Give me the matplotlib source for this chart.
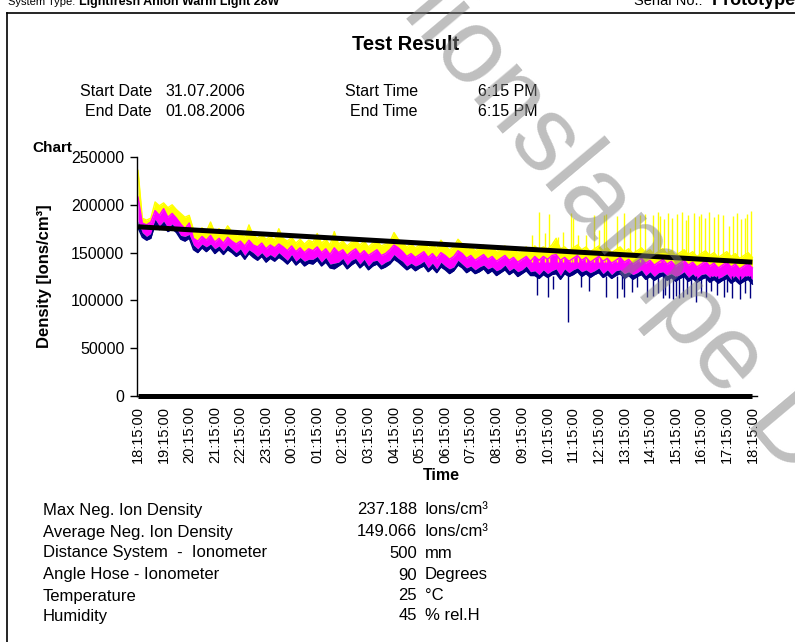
import matplotlib
matplotlib.use('Agg')
import matplotlib.pyplot as plt
from matplotlib.lines import Line2D
import numpy as np

plt.rcParams['font.family'] = ['Liberation Sans', 'DejaVu Sans']

# ---------------- data (1000 ions/cm3, envelope of each trace per 10-minute slot) ----------------
yellow_hi_k = [236, 186, 184, 186, 203, 199, 202, 197, 200, 195,
               191, 187, 189, 174, 171, 176, 172, 182, 171, 175,
               170, 178, 172, 168, 170, 166, 179, 168, 165, 169,
               164, 167, 163, 175, 165, 162, 166, 160, 164, 159,
               163, 161, 170, 160, 164, 158, 172, 159, 162, 157,
               161, 163, 158, 162, 156, 160, 162, 157, 159, 161,
               171, 164, 160, 156, 159, 155, 158, 161, 155, 159,
               154, 163, 157, 153, 156, 164, 159, 154, 157, 152,
               155, 158, 153, 156, 151, 154, 157, 152, 155, 150,
               153, 156, 151, 157, 153, 156, 154, 158, 165, 154,
               156, 152, 155, 158, 153, 156, 151, 154, 157, 152,
               155, 150, 153, 156, 151, 154, 149, 152, 155, 150,
               153, 148, 151, 154, 149, 152, 147, 150, 153, 148,
               151, 146, 149, 152, 147, 150, 145, 148, 151, 146,
               149, 144, 147, 150, 145]
magenta_hi_k = [208, 181, 179, 182, 194, 189, 196, 187, 191, 186,
                180, 175, 181, 165, 162, 167, 163, 168, 161, 165,
                160, 166, 162, 159, 162, 157, 163, 158, 156, 160,
                154, 158, 155, 159, 156, 152, 157, 151, 155, 150,
                154, 152, 156, 150, 154, 148, 155, 150, 153, 147,
                151, 154, 148, 152, 147, 150, 153, 147, 149, 153,
                158, 155, 151, 146, 149, 145, 148, 151, 145, 149,
                144, 150, 147, 143, 146, 152, 149, 144, 147, 142,
                145, 148, 143, 146, 141, 144, 147, 142, 145, 140,
                143, 146, 141, 146, 142, 146, 143, 147, 148, 142,
                145, 141, 144, 147, 142, 145, 140, 143, 146, 141,
                144, 139, 142, 145, 140, 143, 138, 141, 144, 139,
                142, 137, 140, 143, 138, 141, 136, 139, 142, 137,
                140, 135, 138, 141, 136, 139, 134, 137, 140, 135,
                138, 133, 136, 139, 134]
navy_hi_k = [183, 171, 167, 170, 185, 178, 183, 176, 180, 175,
             168, 167, 169, 158, 154, 159, 156, 159, 154, 157,
             152, 158, 154, 150, 154, 147, 153, 150, 146, 150,
             145, 148, 145, 150, 146, 142, 148, 141, 145, 141,
             143, 143, 146, 140, 145, 138, 139, 140, 144, 137,
             142, 144, 138, 143, 136, 141, 142, 137, 140, 142,
             148, 144, 141, 136, 139, 136, 138, 141, 134, 139,
             133, 140, 136, 133, 135, 142, 138, 134, 136, 132,
             135, 137, 133, 135, 131, 133, 137, 131, 134, 130,
             132, 136, 130, 131, 127, 132, 128, 131, 133, 126,
             133, 129, 132, 134, 130, 132, 129, 131, 134, 128,
             132, 127, 131, 132, 128, 130, 127, 129, 132, 126,
             130, 125, 129, 130, 126, 128, 125, 127, 130, 124,
             128, 123, 127, 128, 124, 126, 123, 125, 128, 122,
             126, 121, 125, 126, 122]
navy_lo_k = [176, 166, 163, 165, 180, 174, 178, 172, 175, 171,
             164, 162, 165, 153, 150, 155, 151, 155, 149, 153,
             148, 153, 150, 146, 149, 143, 149, 145, 142, 146,
             140, 144, 141, 145, 142, 138, 143, 137, 141, 136,
             139, 138, 142, 136, 140, 134, 133, 136, 139, 133,
             137, 140, 134, 138, 132, 136, 138, 133, 135, 138,
             143, 140, 136, 132, 135, 131, 134, 136, 130, 134,
             129, 135, 132, 128, 131, 137, 134, 129, 132, 128,
             130, 133, 128, 131, 126, 129, 132, 127, 130, 125,
             128, 131, 126, 126, 123, 127, 124, 127, 128, 122,
             128, 125, 127, 130, 125, 128, 124, 127, 129, 124,
             127, 123, 126, 128, 123, 126, 122, 125, 127, 122,
             125, 121, 124, 126, 121, 124, 120, 123, 125, 120,
             123, 119, 122, 124, 119, 122, 118, 121, 123, 118,
             121, 117, 120, 122, 117]

# short yellow spikes (hours after start, peak in 1000)
spike_hours = [15.4, 15.65, 15.9, 16.05, 16.4, 16.6, 16.9, 17.0, 17.2, 17.5,
               17.8, 18.0, 18.2, 18.3, 18.7, 19.0, 19.2, 19.4, 19.6, 19.8,
               20.1, 20.3, 20.4, 20.55, 20.7, 20.85, 21.05, 21.25, 21.4, 21.5,
               21.7, 21.9, 22.0, 22.15, 22.3, 22.5, 22.65, 22.85, 23.1, 23.25,
               23.4, 23.55, 23.7, 23.8, 23.95]
spike_peak_k = [168, 192, 170, 190, 166, 172, 191, 186, 168, 168,
                189, 174, 189, 190, 188, 191, 176, 187, 189, 190,
                189, 192, 188, 185, 191, 186, 190, 192, 184, 189,
                191, 188, 190, 186, 192, 187, 190, 189, 178, 188,
                191, 185, 186, 190, 193]
# short navy drops (hours after start, minimum in 1000)
dip_hours = [15.6, 16.0, 16.2, 16.8, 17.3, 17.6, 18.3, 18.7, 18.9, 19.0,
             19.3, 19.5, 19.9, 20.1, 20.3, 20.5, 20.6, 20.75, 20.9, 21.0,
             21.15, 21.3, 21.45, 21.6, 21.8, 22.0, 22.2, 22.4, 22.6, 22.9,
             23.0, 23.2, 23.5, 23.7, 23.9]
dip_low_k = [106, 104, 112, 77, 114, 110, 104, 103, 112, 104,
             109, 114, 104, 105, 108, 102, 106, 103, 101, 105,
             102, 104, 107, 104, 98, 108, 104, 110, 106, 104,
             109, 103, 101, 108, 102]

trend_hours = [0, 24]
trend_values = [177000, 140000]
zero_values = [0, 0]

tick_labels = ["18:15:00", "19:15:00", "20:15:00", "21:15:00", "22:15:00", "23:15:00",
               "00:15:00", "01:15:00", "02:15:00", "03:15:00", "04:15:00", "05:15:00",
               "06:15:00", "07:15:00", "08:15:00", "09:15:00", "10:15:00", "11:15:00",
               "12:15:00", "13:15:00", "14:15:00", "15:15:00", "16:15:00", "17:15:00",
               "18:15:00"]
y_ticks = [0, 50000, 100000, 150000, 200000, 250000]

stat_names = ["Max Neg. Ion Density", "Average Neg. Ion Density",
              "Distance System  -  Ionometer", "Angle Hose - Ionometer",
              "Temperature", "Humidity"]
stat_values = ["237.188", "149.066", "500", "90", "25", "45"]
stat_units = ["Ions/cm\u00b3", "Ions/cm\u00b3", "mm", "Degrees", "\u00b0C", "% rel.H"]

# ---------------- figure ----------------
W, H = 795, 642
fig = plt.figure(figsize=(W / 100, H / 100), dpi=100)
fig.patch.set_facecolor('white')


def fx(x):
    return x / W


def fy(y):
    return 1 - y / H


ax = fig.add_axes([fx(137), fy(396), 620 / W, 239 / H])

t = np.arange(len(yellow_hi_k)) / 6.0
k = 1000
yh = np.array(yellow_hi_k) * k
mh = np.array(magenta_hi_k) * k
nh = np.array(navy_hi_k) * k
nl = np.array(navy_lo_k) * k

ax.fill_between(t, mh, yh, color='#FFFF00', lw=0)
ax.plot(t, yh, color='#FFFF00', lw=1.0)
ax.vlines(spike_hours, 140000, np.array(spike_peak_k) * k, color='#FFFF00', lw=1.0)
ax.fill_between(t, nh, mh, color='#FF00FF', lw=0)
ax.plot(t, mh, color='#FF00FF', lw=1.0)
ax.fill_between(t, nl, nh, color='#000080', lw=0)
ax.plot(t, nl, color='#000080', lw=1.0)
ax.vlines(dip_hours, np.array(dip_low_k) * k, 126000, color='#000080', lw=1.0)
ax.plot(trend_hours, trend_values, color='black', lw=3.6, solid_capstyle='butt')
ax.plot(trend_hours, zero_values, color='black', lw=3.6, solid_capstyle='butt', clip_on=False)

ax.set_xlim(-0.04, 24.18)
ax.set_ylim(0, 250000)
ax.set_yticks(y_ticks)
ax.set_yticklabels([str(v) for v in y_ticks], fontsize=11.5)
ax.set_xticks(range(len(tick_labels)))
ax.set_xticklabels(tick_labels, rotation=90, fontsize=10.5)
ax.tick_params(axis='x', length=0, pad=7)
ax.tick_params(axis='y', length=5, width=1, pad=4)
for s in ['top', 'right']:
    ax.spines[s].set_visible(False)
ax.spines['left'].set_linewidth(1)
ax.spines['bottom'].set_linewidth(1)
ax.set_facecolor('white')

# axis titles
fig.text(fx(45), fy(276), "Density [Ions/cm\u00b3]", rotation=90, ha='center', va='center',
         fontsize=12, fontweight='bold')
fig.text(fx(441), fy(475), "Time", ha='center', va='center', fontsize=11.5, fontweight='bold')
fig.text(fx(32), fy(152), "Chart", ha='left', va='baseline', fontsize=11, fontweight='bold')

# header
fs_h = 11.5
fig.text(fx(406), fy(45), "Test Result", ha='center', va='center', fontsize=14.5, fontweight='bold')
fig.text(fx(152), fy(91), "Start Date", ha='right', va='center', fontsize=fs_h)
fig.text(fx(152), fy(112), "End Date", ha='right', va='center', fontsize=fs_h)
fig.text(fx(165), fy(91), "31.07.2006", ha='left', va='center', fontsize=fs_h)
fig.text(fx(165), fy(112), "01.08.2006", ha='left', va='center', fontsize=fs_h)
fig.text(fx(418), fy(91), "Start Time", ha='right', va='center', fontsize=fs_h)
fig.text(fx(418), fy(112), "End Time", ha='right', va='center', fontsize=fs_h)
fig.text(fx(478), fy(91), "6:15 PM", ha='left', va='center', fontsize=fs_h)
fig.text(fx(478), fy(112), "6:15 PM", ha='left', va='center', fontsize=fs_h)

# cut-off top line
fig.text(fx(75), fy(5), "System Type:", ha='right', va='baseline', fontsize=8)
fig.text(fx(79), fy(5), "Lightfresh Anion Warm Light 28W", ha='left', va='baseline',
         fontsize=9, fontweight='bold')
fig.text(fx(703), fy(5), "Serial No.:", ha='right', va='baseline', fontsize=10.5)
fig.text(fx(712), fy(5), "Prototype", ha='left', va='baseline', fontsize=13, fontweight='bold')

# statistics
fs_s = 12
row_y = [510, 532, 553, 575, 596, 616]
for name, val, unit, yy in zip(stat_names, stat_values, stat_units, row_y):
    fig.text(fx(43), fy(yy), name, ha='left', va='center', fontsize=fs_s)
    fig.text(fx(417), fy(yy), val, ha='right', va='center', fontsize=fs_s)
    fig.text(fx(425), fy(yy), unit, ha='left', va='center', fontsize=fs_s)

# frame
fig.add_artist(Line2D([fx(7), fx(7)], [fy(13), fy(642)], color='black', lw=1.2))
fig.add_artist(Line2D([fx(7), fx(795)], [fy(13), fy(13)], color='black', lw=1.2))

# diagonal watermark
fig.text(fx(333), fy(-68), "Anionslampe Demo", rotation=-50, rotation_mode='anchor',
         ha='left', va='baseline', fontsize=76, color='#808080', alpha=0.5, zorder=10)

fig.savefig('out.png', dpi=100, facecolor='white')
